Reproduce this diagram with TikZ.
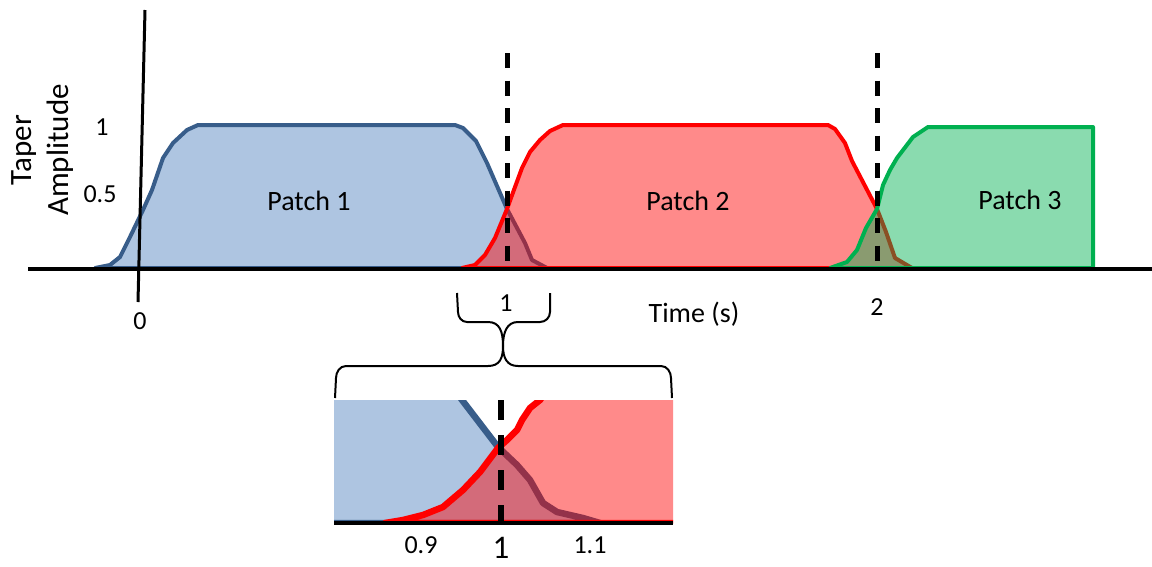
\documentclass[tikz,border=0pt]{standalone}
\usepackage{fontspec}
\setmainfont{Carlito}
\usepackage{xcolor}
\usepackage{tikz}
\usetikzlibrary{positioning}
\usetikzlibrary{calc}

\definecolor{patchblue}{RGB}{79,129,189}
\definecolor{edgeblue}{RGB}{56,93,138}
\definecolor{patchred}{RGB}{255,0,0}
\definecolor{patchgreen}{RGB}{0,176,80}

\begin{document}
\begin{tikzpicture}[x=1pt, y=-1pt, font=\fontsize{28}{36}\selectfont,
  tick/.style={font=\fontsize{26}{30}\selectfont},
  taper/.style={line width=4pt, line join=round, fill opacity=0.46},
  zoomtaper/.style={line width=6.5pt, line join=round, fill opacity=0.46},
  marker/.style={line width=5pt, dash pattern=on 15pt off 12.5pt},
  brace/.style={line width=2pt, line join=round}]
\useasboundingbox (0,0) rectangle (1152,566);

% patch 1
\draw [taper, draw=edgeblue, fill=patchblue] (95,268) -- (110,265) -- (120,257) -- (130,237) -- (143,210) -- (152,190) -- (163,158) -- (173,143) -- (187,130) -- (198,125) -- (455,125) -- (463,128) -- (476,141) -- (487,163) -- (507,209) -- (525,243) -- (532,260) -- (547,268) -- cycle;

% patch 2
\draw [taper, draw=patchred, fill=patchred] (462,268) -- (475,265) -- (485,255) -- (495,238) -- (507,209) -- (515,187) -- (522,168) -- (530,152) -- (540,140) -- (550,131) -- (563,125) -- (828,125) -- (835,129) -- (845,143) -- (852,161) -- (877,209) -- (886,232) -- (895,258) -- (912,268) -- cycle;

% patch 3
\draw [taper, draw=patchgreen, fill=patchgreen] (830,268) -- (847,262) -- (857,250) -- (866,228) -- (877,209) -- (883,185) -- (890,170) -- (897,158) -- (913,137) -- (928,127) -- (1093,127) -- (1093,268) -- cycle;

% overlap markers
\coordinate (mark1top) at (507,53);
\coordinate (mark1bot) at (507,268);
\coordinate (mark2top) at (877,53);
\coordinate (mark2bot) at (877,268);
\draw [marker] (mark1top) -- (mark1bot);
\draw [marker] (mark2top) -- (mark2bot);

% axes
\draw [line width=3.5pt] (28,269) -- (1152,269);
\draw [line width=3pt] (145,10) -- (138,302);

\node (ylabel) [rotate=90, align=center, font=\fontsize{31}{37}\selectfont] at (43,150) {Taper\\Amplitude};
\node (yone) [tick] at (102,127) {1};
\node (yhalf) [tick] at (100,194) {0.5};
\node (xzero) [tick] at (140,321) {0};
\node (xone) [tick] at (506,303) {1};
\node (xtwo) [tick] at (877,307) {2};
\node (time) at (694,314) {Time (s)};
\node (patch1) at (309,201) {Patch 1};
\node (patch2) at (688,201) {Patch 2};
\node (patch3) at (1020,200) {Patch 3};

% braces
\draw [brace] (457,293) -- (458,312) to[out=-90,in=180] (467,322) -- (488,322) .. controls (500,322) and (503,332) .. (503,346) .. controls (503,332) and (507,322) .. (518,322) -- (540,322) to[out=0,in=-90] (550,312) -- (550,293);
\draw [brace] (335,398) -- (336,378) to[out=90,in=180] (346,366) -- (488,366) .. controls (500,366) and (503,358) .. (503,346) .. controls (503,358) and (507,366) .. (518,366) -- (661,366) to[out=0,in=90] (671,378) -- (672,398);

% zoomed view
\begin{scope}
\clip (334,400) rectangle (673,523);
\draw [zoomtaper, draw=edgeblue, fill=patchblue] (300,523) -- (300,380) -- (448,380) -- (462,400) -- (498,447) -- (517,465) -- (530,480) -- (543,503) -- (557,512) -- (583,518) -- (600,523) -- cycle;
\draw [zoomtaper, draw=patchred, fill=patchred] (700,523) -- (385,523) -- (403,520) -- (423,515) -- (443,507) -- (463,490) -- (480,472) -- (498,448) -- (507,440) -- (517,430) -- (522,420) -- (530,408) -- (540,400) -- (550,385) -- (700,385) -- cycle;
\draw [line width=6pt, dash pattern=on 20pt off 15pt] (501,400) -- (501,523);
\end{scope}
\draw [line width=4pt] (334,523) -- (673,523);

\node (zoomnine) [tick] at (421,545) {0.9};
\node (zoomone) [font=\fontsize{33}{40}\selectfont, inner sep=0pt] at (501,548) {1};
\node (zoomeleven) [tick] at (590,545) {1.1};
\end{tikzpicture}
\end{document}
